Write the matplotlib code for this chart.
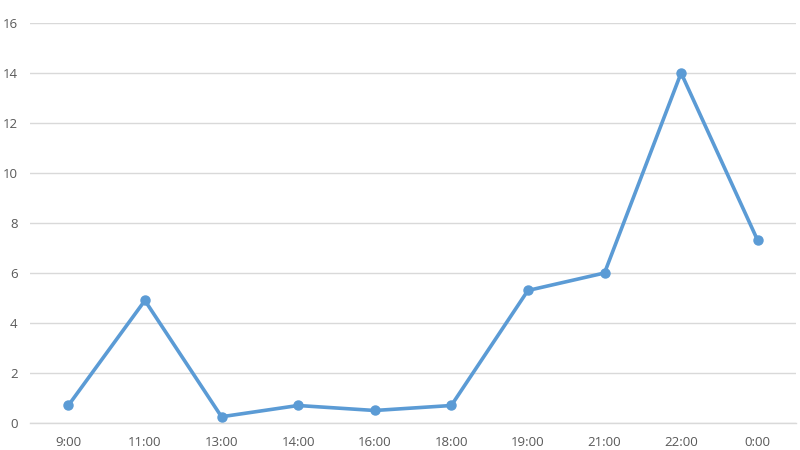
import matplotlib
matplotlib.use("Agg")
import matplotlib.pyplot as plt
from matplotlib.ticker import MultipleLocator

LINE_COLOR = "#5B9BD5"
GRID_COLOR = "#D9D9D9"
TEXT_COLOR = "#595959"

hours = ["9:00", "11:00", "13:00", "14:00", "16:00", "18:00", "19:00", "21:00", "22:00", "0:00"]
values = [0.7, 4.9, 0.25, 0.7, 0.5, 0.7, 5.3, 6.0, 14.0, 7.3]

plt.rcParams["font.family"] = ["Open Sans", "DejaVu Sans"]

fig = plt.figure(figsize=(8, 4.5), dpi=100)
ax = fig.add_axes([0.0375, 0.06, 0.9575, 0.889])

x = list(range(len(hours)))
ax.plot(x, values, color=LINE_COLOR, linewidth=2.6, marker="o", markersize=6.5,
        solid_joinstyle="round", zorder=3)

ax.set_xlim(-0.5, len(hours) - 0.5)
ax.set_ylim(0, 16)
ax.yaxis.set_major_locator(MultipleLocator(2))
ax.set_xticks(x)
ax.set_xticklabels(hours)

ax.grid(axis="y", color=GRID_COLOR, linewidth=1)
ax.set_axisbelow(True)
for side in ["top", "right", "left"]:
    ax.spines[side].set_visible(False)
ax.spines["bottom"].set_color(GRID_COLOR)
ax.spines["bottom"].set_linewidth(1)

ax.tick_params(axis="both", length=0, labelsize=9.5, labelcolor=TEXT_COLOR)
ax.tick_params(axis="y", pad=9)
ax.tick_params(axis="x", pad=9)

fig.savefig("out.png", dpi=100)
